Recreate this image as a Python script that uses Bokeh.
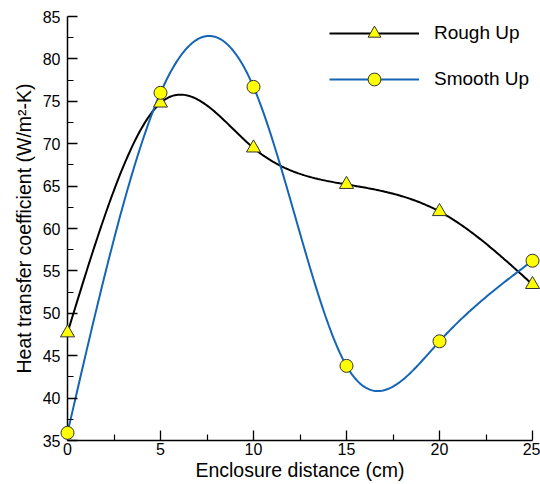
import numpy as np
from bokeh.plotting import figure
from bokeh.models import Range1d, Legend, LegendItem
from bokeh.embed import file_html
from bokeh.resources import INLINE

# Measured heat transfer coefficient vs. enclosure distance
distance_cm = [0, 5, 10, 15, 20, 25]
rough_up = [47.7, 74.8, 69.5, 65.2, 62.0, 53.4]
smooth_up = [35.9, 76.0, 76.7, 43.8, 46.7, 56.2]

x_ticks = [0, 5, 10, 15, 20, 25]
x_minor = [2.5, 7.5, 12.5, 17.5, 22.5]
y_ticks = [35, 40, 45, 50, 55, 60, 65, 70, 75, 80, 85]
y_minor = [37.5, 42.5, 47.5, 52.5, 57.5, 62.5, 67.5, 72.5, 77.5, 82.5]


def natural_spline(x, y, n=300):
    """Natural cubic spline through (x, y) for a smooth connecting line."""
    x = np.asarray(x, float)
    y = np.asarray(y, float)
    m = len(x)
    h = np.diff(x)
    A = np.zeros((m, m))
    b = np.zeros(m)
    A[0, 0] = A[-1, -1] = 1.0
    for i in range(1, m - 1):
        A[i, i - 1] = h[i - 1]
        A[i, i] = 2 * (h[i - 1] + h[i])
        A[i, i + 1] = h[i]
        b[i] = 3 * ((y[i + 1] - y[i]) / h[i] - (y[i] - y[i - 1]) / h[i - 1])
    c = np.linalg.solve(A, b)
    bb = (y[1:] - y[:-1]) / h - h * (2 * c[:-1] + c[1:]) / 3
    d = (c[1:] - c[:-1]) / (3 * h)
    xs = np.linspace(x[0], x[-1], n)
    idx = np.clip(np.searchsorted(x, xs, side="right") - 1, 0, m - 2)
    t = xs - x[idx]
    ys = y[idx] + bb[idx] * t + c[idx] * t ** 2 + d[idx] * t ** 3
    return xs, ys


FONT = "Liberation Sans"

p = figure(width=540, height=484, output_backend="svg", toolbar_location=None,
           x_range=Range1d(0, 25), y_range=Range1d(35, 85),
           min_border_left=67, min_border_right=8, min_border_top=16,
           min_border_bottom=44)
p.outline_line_color = None
p.xgrid.visible = False
p.ygrid.visible = False

rx, ry = natural_spline(distance_cm, rough_up)
sx, sy = natural_spline(distance_cm, smooth_up)

rough_line = p.line(rx, ry, line_color="black", line_width=2)
smooth_line = p.line(sx, sy, line_color="#1565b5", line_width=2)
# markers sit on the overlay level so the ones on the frame edges stay whole
rough_pts = p.scatter(distance_cm, rough_up, marker="triangle", size=14,
                      fill_color="#ffff00", line_color="#333333", line_width=1,
                      level="overlay")
smooth_pts = p.scatter(distance_cm, smooth_up, marker="circle", size=13,
                       fill_color="#ffff00", line_color="#333333", line_width=1,
                       level="overlay")

for ax in (p.xaxis[0], p.yaxis[0]):
    ax.major_tick_in = 10
    ax.major_tick_out = 0
    ax.minor_tick_in = 6
    ax.minor_tick_out = 0
    ax.axis_line_color = "black"
    ax.axis_line_width = 1.5
    ax.major_tick_line_width = 1.3
    ax.minor_tick_line_width = 1.2
    ax.major_label_text_font = FONT
    ax.major_label_text_font_size = "16px"
    ax.major_label_text_color = "black"
    ax.axis_label_text_font = FONT
    ax.axis_label_text_font_size = "19.5px"
    ax.axis_label_text_font_style = "normal"
    ax.axis_label_text_color = "black"

p.xaxis.ticker = x_ticks
p.yaxis.ticker = y_ticks
p.xaxis[0].ticker.minor_ticks = x_minor
p.yaxis[0].ticker.minor_ticks = y_minor
p.xaxis.major_label_standoff = 2
p.yaxis.major_label_standoff = 7
p.xaxis.axis_label = "Enclosure distance (cm)"
p.yaxis.axis_label = "Heat transfer coefficient (W/m\u00b2-K)"
p.xaxis.axis_label_standoff = 1
p.yaxis.axis_label_standoff = 5

legend = Legend(items=[
    LegendItem(label="Rough Up", renderers=[rough_line, rough_pts]),
    LegendItem(label="Smooth Up", renderers=[smooth_line, smooth_pts]),
], location=(262, 345))
legend.border_line_color = None
legend.background_fill_alpha = 0
legend.padding = 0
legend.margin = 0
legend.glyph_width = 90
legend.glyph_height = 32
legend.label_height = 32
legend.spacing = 14
legend.label_standoff = 15
legend.label_text_font = FONT
legend.label_text_font_size = "19px"
legend.label_text_color = "black"
p.add_layout(legend)

open("out.html", "w").write(file_html(p, INLINE))
